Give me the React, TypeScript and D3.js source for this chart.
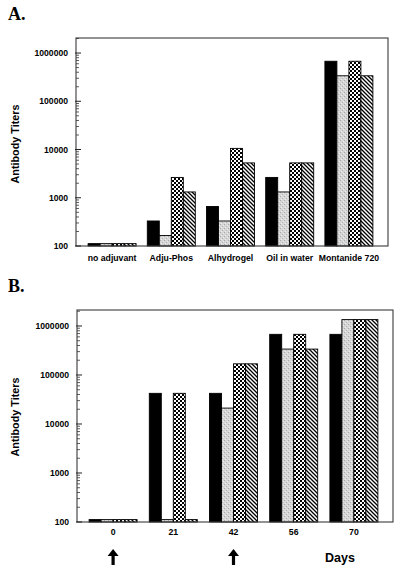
import React from "react";
import * as d3 from "d3";

// ---------- Data ----------
const adjuvants = ["no adjuvant", "Adju-Phos", "Alhydrogel", "Oil in water", "Montanide 720"];
const aBlack = [112, 330, 660, 2640, 675840];
const aGray = [112, 165, 330, 1320, 337920];
const aChecker = [112, 2640, 10560, 5280, 675840];
const aHatch = [112, 1320, 5280, 5280, 337920];

const days = ["0", "21", "42", "56", "70"];
const bBlack = [112, 42240, 42240, 675840, 675840];
const bGray = [112, 112, 21120, 337920, 1351680];
const bChecker = [112, 42240, 168960, 675840, 1351680];
const bHatch = [112, 112, 168960, 337920, 1351680];
const boostDays = ["0", "42"];

const yTickValues = [100, 1000, 10000, 100000, 1000000];
const yLabel = "Antibody Titers";
const fills = ["#000", "url(#stipple)", "url(#checker)", "url(#hatch)"];

type PanelProps = {
  title: string;
  titleY: number;
  cats: string[];
  series: number[][];
  x0: number; x1: number; y0: number; y1: number;
  bandRange: [number, number];
  yMax: number;
  labelDy: number;
  yLabelCenter: number;
  arrows?: string[];
};

const sans = "'Liberation Sans', Arial, Helvetica, sans-serif";

function Panel(p: PanelProps) {
  const y = d3.scaleLog().domain([100, p.yMax]).range([p.y1, p.y0]);
  const xb = d3.scaleBand<string>().domain(p.cats).range(p.bandRange).padding(0);
  const barW = 12;
  const minor: number[] = [];
  for (let e = 2; e <= 6; e++) {
    for (let m = 2; m <= 9; m++) {
      const v = m * Math.pow(10, e);
      if (v <= p.yMax) minor.push(v);
    }
  }
  return (
    <g>
      <text x={8} y={p.titleY} fontFamily="'Liberation Serif', 'Times New Roman', serif" fontWeight="bold" fontSize={18}>{p.title}</text>
      {/* bars */}
      {p.cats.map((c, i) => {
        const cx = (xb(c) as number) + xb.bandwidth() / 2;
        return p.series.map((s, k) => {
          const bx = cx - 2 * barW + k * barW;
          const top = y(s[i]);
          return (
            <rect key={c + k} x={bx} y={top} width={barW} height={p.y1 - top}
              fill={fills[k]} stroke="#000" strokeWidth={0.9} />
          );
        });
      })}
      {/* frame */}
      <rect x={p.x0} y={p.y0} width={p.x1 - p.x0} height={p.y1 - p.y0} fill="none" stroke="#3a3a3a" strokeWidth={1.1} />
      {/* y ticks */}
      {minor.map((v) => (
        <line key={"m" + v} x1={p.x0} x2={p.x0 + 3} y1={y(v)} y2={y(v)} stroke="#333" strokeWidth={0.8} />
      ))}
      {yTickValues.map((v) => (
        <g key={"t" + v}>
          <line x1={p.x0 - 1} x2={p.x0 + 5} y1={y(v)} y2={y(v)} stroke="#222" strokeWidth={1} />
          <text x={p.x0 - 8} y={y(v) + 3} textAnchor="end" fontFamily={sans} fontWeight="bold" fontSize={8.6}>{String(v)}</text>
        </g>
      ))}
      {/* x labels */}
      {p.cats.map((c) => (
        <text key={"x" + c} x={(xb(c) as number) + xb.bandwidth() / 2} y={p.y1 + p.labelDy} textAnchor="middle"
          fontFamily={sans} fontWeight="bold" fontSize={8.7}>{c}</text>
      ))}
      {/* y label */}
      <text transform={`translate(19, ${p.yLabelCenter}) rotate(-90)`} textAnchor="middle" fontFamily={sans}
        fontWeight="bold" fontSize={10.8}>{yLabel}</text>
      {/* arrows */}
      {(p.arrows || []).map((d) => {
        const cx = (xb(d) as number) + xb.bandwidth() / 2;
        const t = 549;
        return (
          <path key={"a" + d}
            d={`M${cx},${t} L${cx + 5.5},${t + 7} L${cx + 1.6},${t + 7} L${cx + 1.6},${t + 16} L${cx - 1.6},${t + 16} L${cx - 1.6},${t + 7} L${cx - 5.5},${t + 7} Z`}
            fill="#000" />
        );
      })}
    </g>
  );
}

export default function App() {
  return (
    <svg width={400} height={570} style={{ position: "absolute", left: 0, top: 0, background: "#fff" }}>
      <defs>
        <pattern id="stipple" width={4} height={4} patternUnits="userSpaceOnUse">
          <rect width={4} height={4} fill="#d6d6d6" />
          <rect x={0} y={0} width={1} height={1} fill="#a8a8a8" />
          <rect x={2} y={2} width={1} height={1} fill="#b4b4b4" />
          <rect x={3} y={1} width={1} height={1} fill="#eaeaea" />
          <rect x={1} y={3} width={1} height={1} fill="#eeeeee" />
        </pattern>
        <pattern id="checker" width={4} height={4} patternUnits="userSpaceOnUse">
          <rect width={4} height={4} fill="#fff" />
          <rect x={0} y={0} width={2} height={2} fill="#000" />
          <rect x={2} y={2} width={2} height={2} fill="#000" />
        </pattern>
        <pattern id="hatch" width={4} height={4} patternUnits="userSpaceOnUse">
          <rect width={4} height={4} fill="#fff" />
          <path d="M0,0 L4,4 M-1,3 L1,5 M3,-1 L5,1" stroke="#000" strokeWidth={1.3} />
        </pattern>
      </defs>
      <rect width={400} height={570} fill="#fff" />
      <Panel title="A." titleY={20} cats={adjuvants} series={[aBlack, aGray, aChecker, aHatch]}
        x0={76} x1={388} y0={38} y1={246} bandRange={[82.5, 378.5]} yMax={2.05e6}
        labelDy={15.3} yLabelCenter={144} />
      <Panel title="B." titleY={292} cats={days} series={[bBlack, bGray, bChecker, bHatch]}
        x0={77} x1={393} y0={310} y1={522} bandRange={[83, 384]} yMax={2.12e6}
        labelDy={13} yLabelCenter={417} arrows={boostDays} />
      <text x={340} y={562} textAnchor="middle" fontFamily={sans} fontWeight="bold" fontSize={12.5}>Days</text>
    </svg>
  );
}
